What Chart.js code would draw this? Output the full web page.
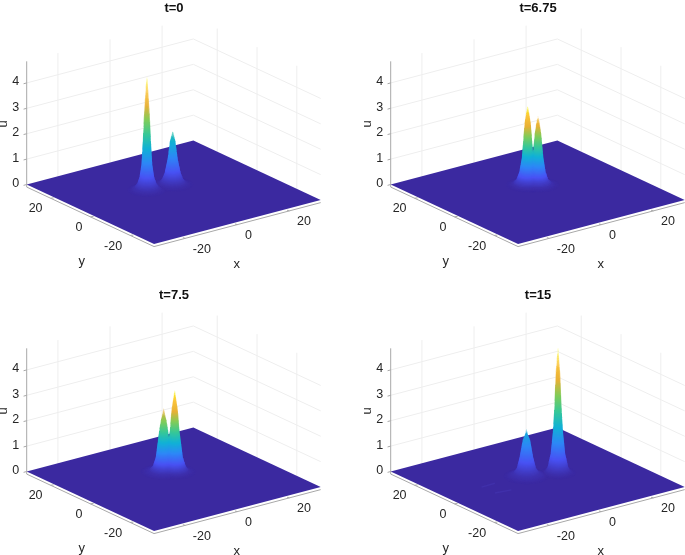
<!DOCTYPE html>
<html>
<head>
<meta charset="utf-8">
<title>u(x,y) at four times</title>
<script src="https://cdn.jsdelivr.net/npm/chart.js@4"></script>
<style>
  html, body { margin: 0; padding: 0; background: #fff; width: 685px; height: 555px; overflow: hidden; }
  canvas { position: absolute; }
</style>
</head>
<body>
<canvas id="c0" width="348" height="280" style="left:0;top:0"></canvas>
<canvas id="c1" width="348" height="280" style="left:364px;top:0"></canvas>
<canvas id="c2" width="348" height="268" style="left:0;top:287px"></canvas>
<canvas id="c3" width="348" height="268" style="left:364px;top:287px"></canvas>
<script>
// ── values
const panelTitles = ['t=0', 't=6.75', 't=7.5', 't=15'];
const xTicks = [-20, 0, 20];
const yTicks = [20, 0, -20];
const uTicks = [0, 1, 2, 3, 4];
const domainEdge = 32;
const uFloor = -0.1;
const uTop = 4.85;

// each peak: centre (x, y), then height levels and the radius of the surface at that level
const t0LeftCentre = [-5.5, 6.3];
const t0LeftU = [4.45, 4.1, 3, 2, 1, 0.5, 0.25, 0.1, 0.03, 0.004];
const t0LeftR = [0.15, 0.38, 0.92, 1.25, 1.7, 2.3, 3.0, 3.9, 5.0, 6.2];
const t0RightCentre = [3.8, 5.5];
const t0RightU = [2.1, 1.95, 1.7, 1, 0.45, 0.2, 0.08, 0.03, 0.004];
const t0RightR = [0.15, 0.42, 0.9, 1.6, 2.5, 3.3, 4.1, 5.1, 6.5];

const t675LeftCentre = [1.37, 6.85];
const t675LeftU = [3.1, 2.85, 2.42, 1.08, 0.5, 0.2, 0.06, 0.02, 0.003];
const t675LeftR = [0.15, 0.5, 1.0, 1.8, 2.6, 3.5, 4.6, 5.5, 6.8];
const t675RightCentre = [3.87, 4.95];
const t675RightU = [2.7, 2.45, 2, 1.08, 0.5, 0.2, 0.06, 0.02, 0.003];
const t675RightR = [0.15, 0.55, 1.05, 1.7, 2.4, 3.2, 4.4, 5.5, 6.8];

const t75LeftCentre = [1.37, 6.85];
const t75LeftU = [2.5, 2.25, 2, 1.63, 0.57, 0.2, 0.06, 0.02, 0.003];
const t75LeftR = [0.15, 0.5, 0.95, 1.4, 2.45, 3.4, 4.6, 6.2, 7.2];
const t75RightCentre = [4.04, 4.82];
const t75RightU = [3.2, 2.9, 2.4, 1.63, 0.57, 0.2, 0.06, 0.02, 0.003];
const t75RightR = [0.15, 0.5, 1.05, 1.5, 2.55, 3.5, 4.4, 5.5, 6.8];

const t15ShortCentre = [-1.23, 4.08];
const t15ShortU = [1.83, 1.65, 1.42, 0.76, 0.3, 0.12, 0.02, 0.003];
const t15ShortR = [0.15, 0.5, 1.2, 2.1, 3.0, 4.1, 6.2, 7.2];
const t15TallCentre = [8.22, 0.6];
const t15TallU = [4.9, 4.5, 3.91, 2.58, 1.67, 0.77, 0.22, 0.07, 0.02, 0.003];
const t15TallR = [0.15, 0.4, 0.75, 1.15, 1.55, 2.25, 3.2, 4.0, 4.8, 5.8];

// faint ripples left on the sheet at t=15, as [x, y] ends
const rippleA = [[-17.9, 4.8], [-12.6, 5.0]];
const rippleB = [[-17.7, -1.64], [-12, -2.5]];

const panelPeaks = [
  [[t0LeftCentre, t0LeftU, t0LeftR], [t0RightCentre, t0RightU, t0RightR]],
  [[t675LeftCentre, t675LeftU, t675LeftR], [t675RightCentre, t675RightU, t675RightR]],
  [[t75LeftCentre, t75LeftU, t75LeftR], [t75RightCentre, t75RightU, t75RightR]],
  [[t15TallCentre, t15TallU, t15TallR], [t15ShortCentre, t15ShortU, t15ShortR]]
];
const panelRipples = [[], [], [], [rippleA, rippleB]];

// parula colormap anchors
const PARULA = ['#3b29a0', '#4852f4', '#2d87f7', '#11b1d6', '#37c897', '#80cc59', '#e8b035', '#fbc43a', '#f9fb15'];

const COLORS = {
  grid: '#eeeeee',
  axis: '#a8a8a8',
  tick: '#262626',
  title: '#111111'
};

const TITLE_FONT_SIZE = 13;
const TITLE_TOP = 1;
const TITLE_H = TITLE_FONT_SIZE * 1.2 + TITLE_TOP;

Chart.defaults.font.family = "'Liberation Sans', Arial, sans-serif";
Chart.defaults.animation = false;

// ── view: linear projection of (x, y, u) onto the flat plot coordinates
function project(x, y, u) {
  return {
    x: 173.7 + 2.604 * x - 1.99 * y,
    y: 192.3 - 0.687 * x - 0.93 * y - 25.4 * u
  };
}

function lineSet(points, color, width) {
  return {
    data: points,
    borderColor: color,
    borderWidth: width,
    pointRadius: 0,
    fill: false,
    tension: 0
  };
}

function parulaAt(t) {
  const p = Math.max(0, Math.min(1, t)) * (PARULA.length - 1);
  const i = Math.min(Math.floor(p), PARULA.length - 2);
  const f = p - i;
  const a = parseInt(PARULA[i].slice(1), 16);
  const b = parseInt(PARULA[i + 1].slice(1), 16);
  const mix = s => Math.round(((a >> s) & 255) * (1 - f) + ((b >> s) & 255) * f);
  return `rgb(${mix(16)},${mix(8)},${mix(0)})`;
}

// One level of a peak as a closed ring; a circle in (x, y) goes through the view
function ringPoints(centre, u, r) {
  const pts = [];
  for (let k = 0; k <= 20; k++) {
    const a = k / 20 * 2 * Math.PI;
    pts.push(project(centre[0] + r * Math.cos(a), centre[1] + r * Math.sin(a), u));
  }
  return pts;
}

function peakRings(peak) {
  const [centre, us, rs] = peak;
  const rings = [];
  for (let i = 0; i < us.length - 1; i++) {
    const steps = Math.max(1, Math.ceil(Math.max((us[i] - us[i + 1]) * 25.4, (rs[i + 1] - rs[i]) * 3.3)));
    for (let s = 0; s < steps; s++) {
      const f = s / steps;
      rings.push({ centre, u: us[i] + (us[i + 1] - us[i]) * f, r: rs[i] + (rs[i + 1] - rs[i]) * f });
    }
  }
  return rings;
}

// ── tick labels and axis names sit next to the projected axes
const axisText = {
  id: 'axisText',
  afterDraw(chart) {
    const ctx = chart.ctx;
    const px = chart.scales.x;
    const py = chart.scales.y;
    const put = (text, x, y, align) => {
      ctx.textAlign = align;
      ctx.fillText(text, px.getPixelForValue(x), py.getPixelForValue(y));
    };
    ctx.save();
    ctx.fillStyle = COLORS.tick;
    ctx.textBaseline = 'middle';
    ctx.font = "12.5px 'Liberation Sans', Arial, sans-serif";
    xTicks.forEach(v => {
      const p = project(v, -domainEdge, uFloor);
      put(String(v), p.x + 7.5, p.y + 10.8, 'left');
    });
    yTicks.forEach(v => {
      const p = project(-domainEdge, v, uFloor);
      put(String(v), p.x - 8, p.y + 10.8, 'right');
    });
    uTicks.forEach(v => {
      const p = project(-domainEdge, domainEdge, v);
      put(String(v), p.x - 7.5, p.y - 1, 'right');
    });
    ctx.font = "13px 'Liberation Sans', Arial, sans-serif";
    put('x', 236.7, 264, 'center');
    put('y', 81.7, 261, 'center');
    ctx.translate(px.getPixelForValue(3), py.getPixelForValue(124));
    ctx.rotate(-Math.PI / 2);
    ctx.textAlign = 'center';
    ctx.fillText('u', 0, 0);
    ctx.restore();
  }
};

function buildPanel(index) {
  const canvas = document.getElementById('c' + index);
  const peaks = panelPeaks[index];
  const uMax = Math.max(...peaks.map(p => p[1][0]));
  const sets = []; // paint order, back to front
  const e = domainEdge;

  uTicks.slice(1).forEach(u => {
    sets.push(lineSet([project(-e, e, u), project(e, e, u), project(e, -e, u)], COLORS.grid, 1));
  });
  xTicks.forEach(x => sets.push(lineSet([project(x, e, uFloor), project(x, e, uTop)], COLORS.grid, 1)));
  yTicks.forEach(y => sets.push(lineSet([project(e, y, uFloor), project(e, y, uTop)], COLORS.grid, 1)));

  sets.push(lineSet([project(-e, e, uFloor), project(-e, e, uTop)], COLORS.axis, 1));
  sets.push(lineSet([project(-e, e, uFloor), project(-e, -e, uFloor), project(e, -e, uFloor)], COLORS.axis, 1));
  uTicks.forEach(u => sets.push(lineSet([project(-e, e, u), project(-e - 1.2, e, u)], COLORS.axis, 1)));

  // sheet
  const sheet = lineSet([project(-e, e, 0), project(e, e, 0), project(e, -e, 0), project(-e, -e, 0), project(-e, e, 0)], PARULA[0], 0);
  sheet.fill = 'shape';
  sheet.backgroundColor = PARULA[0];
  sets.push(sheet);

  xTicks.forEach(x => sets.push(lineSet([project(x, -e, uFloor), project(x, -e + 1.2, uFloor - 0.02)], COLORS.axis, 1)));
  yTicks.forEach(y => sets.push(lineSet([project(-e, y, uFloor), project(-e + 1.2, y, uFloor - 0.02)], COLORS.axis, 1)));

  panelRipples[index].forEach(r => {
    sets.push(lineSet(r.map(p => project(p[0], p[1], 0)), '#4030aa', 1.5));
  });

  // rings of all peaks in the panel, lowest first, so higher parts cover lower ones
  const rings = peaks.flatMap(peakRings).sort((a, b) => a.u - b.u);
  rings.forEach(ring => {
    const ds = lineSet(ringPoints(ring.centre, ring.u, ring.r), 'transparent', 0);
    ds.fill = 'shape';
    ds.backgroundColor = parulaAt(ring.u / uMax);
    sets.push(ds);
  });

  return new Chart(canvas, {
    type: 'line',
    data: { datasets: sets.reverse() },
    plugins: [axisText],
    options: {
      responsive: false,
      events: [],
      layout: { padding: 0 },
      plugins: {
        legend: { display: false },
        tooltip: { enabled: false },
        title: {
          display: true,
          text: panelTitles[index],
          color: COLORS.title,
          padding: { top: TITLE_TOP, bottom: 0 },
          font: { size: TITLE_FONT_SIZE, weight: 'bold', lineHeight: 1.2 }
        }
      },
      scales: {
        x: { type: 'linear', display: false, min: 0, max: canvas.width },
        y: { type: 'linear', display: false, min: TITLE_H, max: canvas.height, reverse: true }
      }
    }
  });
}

panelTitles.forEach((t, i) => buildPanel(i));
</script>
</body>
</html>
